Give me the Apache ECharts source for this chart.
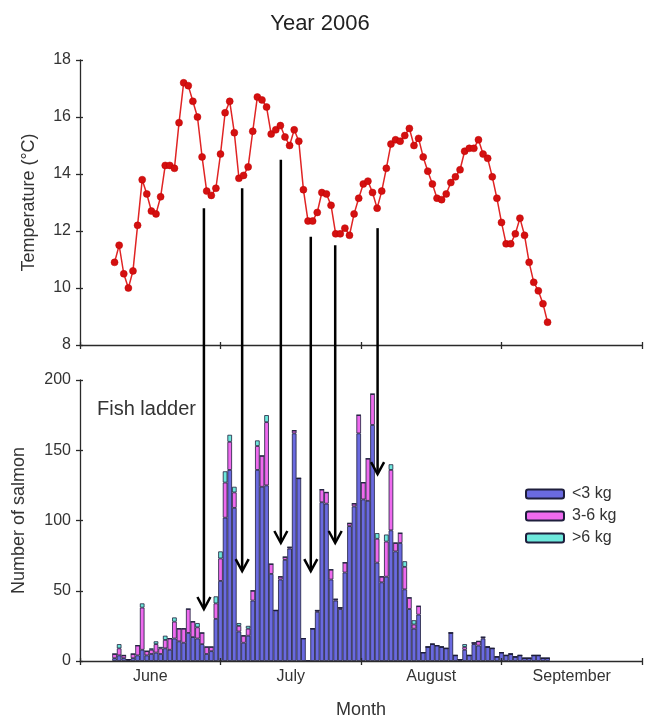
<!DOCTYPE html>
<html>
<head>
<meta charset="utf-8">
<script src="https://cdn.jsdelivr.net/npm/echarts@6/dist/echarts.min.js"></script>
<style>
  html, body { margin: 0; padding: 0; background: #ffffff; }
  #chart { width: 648px; height: 720px; }
</style>
</head>
<body>
<div id="chart"></div>
<script>
// Daily records from 8 June to 10 September 2006.
// The x axis counts days from the start of 1 June (0) to the start of 1 October (122).
const firstDayOffset = 7;          // 8 June
const seasonLength = 122;          // June..September
const months = ['June', 'July', 'August', 'September'];

// Daily water temperature (°C)
const temperature = [
  10.9, 11.5, 10.5, 10.0, 10.6, 12.2, 13.8, 13.3, 12.7, 12.6,
  13.2, 14.3, 14.3, 14.2, 15.8, 17.2, 17.1, 16.55, 16.0, 14.6,
  13.4, 13.25, 13.5, 14.7, 16.15, 16.55, 15.45, 13.85, 13.95, 14.25,
  15.5, 16.7, 16.6, 16.35, 15.4, 15.55, 15.7, 15.3, 15.0, 15.55,
  15.15, 13.45, 12.35, 12.35, 12.65, 13.35, 13.3, 12.9, 11.9, 11.9,
  12.1, 11.85, 12.6, 13.15, 13.65, 13.75, 13.35, 12.8, 13.4, 14.2,
  15.05, 15.2, 15.15, 15.35, 15.6, 15.0, 15.25, 14.6, 14.1, 13.65,
  13.15, 13.1, 13.3, 13.7, 13.9, 14.15, 14.8, 14.9, 14.9, 15.2,
  14.7, 14.55, 13.9, 13.15, 12.3, 11.55, 11.55, 11.9, 12.45, 11.85,
  10.9, 10.2, 9.9, 9.45, 8.8
];

// Daily salmon counts in the fish ladder, by weight class
const under3kg = [
  2, 4, 2, 1, 2, 4, 8, 4, 5, 6,
  5, 9, 8, 16, 14, 13, 20, 17, 16, 12,
  5, 7, 30, 57, 102, 136, 109, 21, 13, 18,
  43, 136, 124, 125, 62, 36, 58, 72, 80, 162,
  130, 16, 0, 23, 35, 113, 112, 58, 43, 37,
  63, 96, 110, 162, 115, 114, 168, 70, 56, 60,
  93, 78, 84, 51, 37, 23, 33, 6, 10, 12,
  11, 10, 9, 20, 4, 1, 8, 4, 12, 11,
  16, 10, 9, 3, 6, 4, 5, 3, 4, 2,
  2, 4, 4, 2, 2
];
const from3to6kg = [
  3, 5, 2, 0, 3, 7, 30, 3, 3, 6,
  4, 6, 8, 12, 9, 10, 17, 11, 8, 8,
  5, 3, 11, 16, 25, 20, 11, 4, 5, 5,
  7, 17, 22, 45, 7, 0, 2, 2, 1, 2,
  0, 0, 0, 0, 1, 9, 8, 7, 1, 1,
  7, 2, 2, 13, 12, 30, 22, 17, 4, 25,
  43, 6, 7, 16, 8, 3, 6, 0, 0, 0,
  0, 0, 0, 0, 0, 0, 2, 0, 1, 3,
  1, 0, 0, 0, 0, 0, 0, 0, 0, 0,
  0, 0, 0, 0, 0
];
const over6kg = [
  0, 3, 0, 0, 0, 0, 3, 0, 1, 2,
  1, 3, 0, 3, 0, 0, 0, 0, 3, 0,
  0, 0, 5, 5, 8, 5, 4, 2, 0, 2,
  0, 4, 0, 5, 0, 0, 0, 0, 0, 0,
  0, 0, 0, 0, 0, 0, 0, 0, 0, 0,
  0, 0, 0, 0, 0, 0, 0, 4, 0, 5,
  4, 0, 0, 4, 0, 3, 0, 0, 0, 0,
  0, 0, 0, 0, 0, 0, 2, 0, 0, 0,
  0, 0, 0, 0, 0, 0, 0, 0, 0, 0,
  0, 0, 0, 0, 0
];

// Arrows linking temperature drops to salmon runs:
// day on the x axis, temperature where the arrow starts, count where its head points
const arrowDay = [26.9, 35.2, 43.6, 50.1, 55.4, 64.6];
const arrowFromTemp = [12.8, 13.5, 14.5, 11.8, 11.5, 12.1];
const arrowToCount = [37, 64, 84, 64, 84, 133];

// One category per day of the season, used to place and stack the daily bars
const dayCategories = Array.from({ length: seasonLength }, (_, k) => String(k + 1));
const daily = arr => Array(firstDayOffset).fill(null).concat(arr);
const dayOf = i => firstDayOffset + i + 0.5;
const pairs = arr => arr.map((v, i) => [dayOf(i), v]);

const FONT = '"Liberation Sans", Arial, sans-serif';
const AXIS_COLOR = '#2a2a2a';
const TEXT_COLOR = '#333333';
const BAR_BORDER = '#1e1e3c';
const tickStyle = { color: AXIS_COLOR, width: 1.3 };

const chart = echarts.init(document.getElementById('chart'), null, { renderer: 'canvas' });

// Month axis with ticks on 1 June, 1 July, 1 August, 1 September, 1 October.
// The inner copy only adds the tick half that sits inside the plot, so ticks cross the line.
const dayAxis = (gridIndex, inner) => ({
  type: 'value',
  gridIndex: gridIndex,
  position: 'bottom',
  min: 0,
  max: seasonLength,
  interval: seasonLength / 4,
  axisLine: { show: !inner, onZero: false, lineStyle: { color: AXIS_COLOR, width: 1.3 } },
  axisTick: { show: true, inside: inner, length: inner ? 3 : 4, lineStyle: tickStyle },
  axisLabel: { show: false },
  splitLine: { show: false },
  z: 5
});

const valueAxis = (gridIndex, min, max, interval, name, nameGap, inner) => ({
  type: 'value',
  gridIndex: gridIndex,
  position: 'left',
  min: min,
  max: max,
  interval: interval,
  axisLine: { show: !inner, lineStyle: { color: AXIS_COLOR, width: 1.3 } },
  axisTick: { show: true, inside: inner, length: inner ? 3 : 4, lineStyle: tickStyle },
  axisLabel: { show: !inner, margin: 9, fontFamily: FONT, fontSize: 16, color: TEXT_COLOR },
  splitLine: { show: false },
  name: inner ? '' : name,
  nameLocation: 'middle',
  nameGap: nameGap,
  nameTextStyle: { fontFamily: FONT, fontSize: 18, color: TEXT_COLOR }
});

const barStyle = (color) => ({ color: color, borderColor: BAR_BORDER, borderWidth: 0.8 });

const option = {
  animation: false,
  backgroundColor: '#ffffff',
  textStyle: { fontFamily: FONT },
  title: {
    text: 'Year 2006',
    left: 315,
    top: 8,
    textAlign: 'center',
    textStyle: { fontFamily: FONT, fontSize: 22, fontWeight: 'normal', color: '#222222' }
  },
  legend: {
    orient: 'vertical',
    left: 520,
    top: 481,
    itemWidth: 38,
    itemHeight: 9,
    itemGap: 6,
    icon: 'roundRect',
    data: ['<3 kg', '3-6 kg', '>6 kg'],
    textStyle: { fontFamily: FONT, fontSize: 16, color: TEXT_COLOR, padding: [0, 0, 0, 3] }
  },
  grid: [
    { left: 80, right: 6, top: 60, height: 285 },
    { left: 80, right: 6, top: 380, height: 282 }
  ],
  xAxis: [
    dayAxis(0, false),
    dayAxis(1, false),
    {
      type: 'category',
      gridIndex: 1,
      position: 'bottom',
      data: months,
      boundaryGap: true,
      axisLine: { show: false },
      axisTick: { show: false },
      axisLabel: { show: true, margin: 8, fontFamily: FONT, fontSize: 16, color: TEXT_COLOR },
      name: 'Month',
      nameLocation: 'middle',
      nameGap: 40,
      nameTextStyle: { fontFamily: FONT, fontSize: 18, color: TEXT_COLOR }
    },
    {
      type: 'category',
      gridIndex: 1,
      position: 'bottom',
      data: dayCategories,
      boundaryGap: true,
      show: false
    },
    dayAxis(0, true),
    dayAxis(1, true)
  ],
  yAxis: [
    valueAxis(0, 8, 18, 2, 'Temperature (°C)', 42, false),
    valueAxis(1, 0, 200, 50, 'Number of salmon', 52, false),
    valueAxis(0, 8, 18, 2, '', 0, true),
    valueAxis(1, 0, 200, 50, '', 0, true)
  ],
  series: [
    {
      name: 'Temperature',
      type: 'line',
      xAxisIndex: 0,
      yAxisIndex: 0,
      data: pairs(temperature),
      symbol: 'circle',
      symbolSize: 7,
      lineStyle: { color: '#e02424', width: 1.5 },
      itemStyle: { color: '#d41010', borderColor: '#c00000', borderWidth: 0.5 }
    },
    {
      name: '<3 kg',
      type: 'bar',
      xAxisIndex: 3,
      yAxisIndex: 1,
      stack: 'salmon',
      barCategoryGap: '0%',
      data: daily(under3kg),
      itemStyle: barStyle('#6a6ae0')
    },
    {
      name: '3-6 kg',
      type: 'bar',
      xAxisIndex: 3,
      yAxisIndex: 1,
      stack: 'salmon',
      barCategoryGap: '0%',
      data: daily(from3to6kg),
      itemStyle: barStyle('#ee6aee')
    },
    {
      name: '>6 kg',
      type: 'bar',
      xAxisIndex: 3,
      yAxisIndex: 1,
      stack: 'salmon',
      barCategoryGap: '0%',
      data: daily(over6kg),
      itemStyle: barStyle('#6ee8dc')
    }
  ]
};

chart.setOption(option);

// Arrows and the panel label are placed through the axes' own scales.
const graphics = [];
arrowDay.forEach((d, i) => {
  const start = chart.convertToPixel({ xAxisIndex: 0, yAxisIndex: 0 }, [d, arrowFromTemp[i]]);
  const tip = chart.convertToPixel({ xAxisIndex: 1, yAxisIndex: 1 }, [d, arrowToCount[i]]);
  graphics.push({
    type: 'line',
    z: 100,
    shape: { x1: start[0], y1: start[1], x2: tip[0], y2: tip[1] - 1 },
    style: { stroke: '#000000', lineWidth: 2.5 }
  });
  graphics.push({
    type: 'polyline',
    z: 100,
    shape: { points: [[tip[0] - 6.5, tip[1] - 12], [tip[0], tip[1]], [tip[0] + 6.5, tip[1] - 12]] },
    style: { stroke: '#000000', lineWidth: 2.5, fill: null, lineJoin: 'miter' }
  });
});

const labelPos = chart.convertToPixel({ xAxisIndex: 1, yAxisIndex: 1 }, [0, 200]);
graphics.push({
  type: 'text',
  z: 50,
  x: labelPos[0] + 17,
  y: labelPos[1] + 29,
  style: {
    text: 'Fish ladder',
    fontFamily: FONT,
    fontSize: 20,
    fill: TEXT_COLOR,
    verticalAlign: 'middle',
    align: 'left'
  }
});

chart.setOption({ graphic: graphics });
</script>
</body>
</html>
